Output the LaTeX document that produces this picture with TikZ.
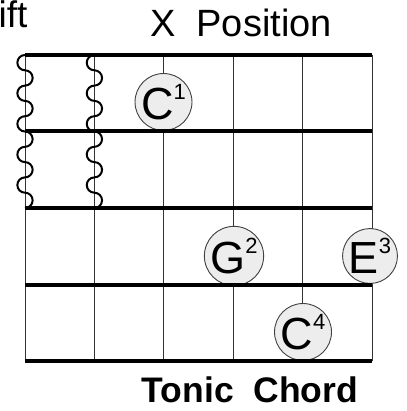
\documentclass[tikz,border=0pt]{standalone}
\usepackage{fontspec}
\setmainfont{Liberation Sans}
\usepackage{tikz}

\newcommand{\fing}[1]{\raisebox{20pt}{\fontsize{22}{22}\selectfont #1}}

\begin{document}
\begin{tikzpicture}[x=1pt, y=-1pt,
	every node/.style={font=\fontsize{35}{40}\selectfont},
	note/.style={circle, draw=black!75, line width=0.9pt, fill=gray!14, minimum size=54pt, inner sep=0pt, font=\fontsize{45}{46}\selectfont},
	fretline/.style={line width=4pt, black},
	stringline/.style={line width=0.9pt, black!80},
	wave/.style={line width=2pt, black}]
	\useasboundingbox (0,0) rectangle (406,411);
	% strings
	\draw[stringline] (25,55) -- (25,361);
	\draw[stringline] (94.4,55) -- (94.4,361);
	\draw[stringline] (163.8,55) -- (163.8,361);
	\draw[stringline] (233.2,55) -- (233.2,361);
	\draw[stringline] (302.6,55) -- (302.6,361);
	\draw[stringline] (372,55) -- (372,361);
	% chord tones
	\node[note] (c1) at (163.5,102) {C\fing{1}};
	\node[note] (g2) at (234,256) {G\fing{2}};
	\node[note] (e3) at (370,256) {E\fing{3}};
	\node[note] (c4) at (303,332) {C\fing{4}};
	% frets
	\draw[fretline] (25,55) -- (372,55);
	\draw[fretline] (25,131.5) -- (372,131.5);
	\draw[fretline] (25,208) -- (372,208);
	\draw[fretline] (25,284.5) -- (372,284.5);
	\draw[fretline] (25,361) -- (372,361);
	% muted strings
	\draw[wave] (25,55) \foreach \k in {1,...,5} {arc[start angle=90, end angle=270, radius=7.65pt] arc[start angle=90, end angle=-90, radius=7.65pt]};
	\draw[wave] (94.4,55) \foreach \k in {1,...,5} {arc[start angle=90, end angle=270, radius=7.65pt] arc[start angle=90, end angle=-90, radius=7.65pt]};
	\node[anchor=base west, inner sep=0pt, font=\fontsize{37}{40}\selectfont] (shift) at (-1.5,28) {ift};
	\node[anchor=base, inner sep=0pt, font=\fontsize{38}{40}\selectfont] (title) at (241,37) {X\ \ Position};
	\node[anchor=base, inner sep=0pt, font=\fontsize{35.5}{40}\selectfont\bfseries] (caption) at (250,402) {Tonic\ \ Chord};
\end{tikzpicture}
\end{document}
